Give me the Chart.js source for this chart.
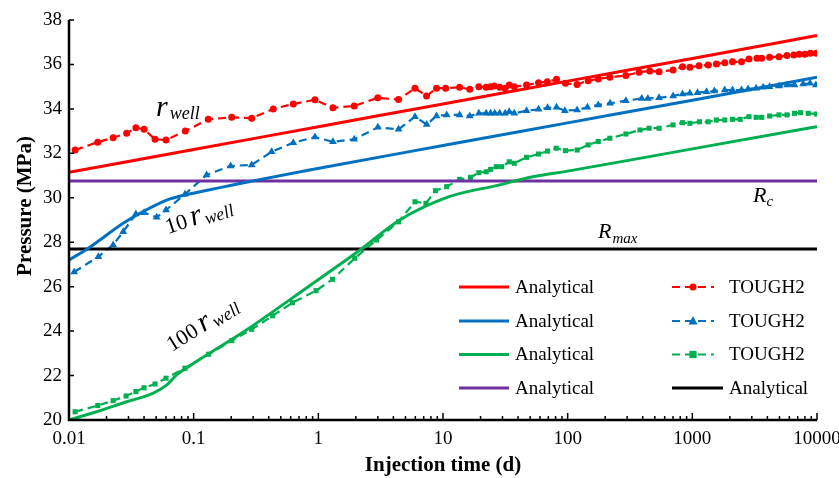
<!DOCTYPE html>
<html>
<head>
<meta charset="utf-8">
<script src="https://cdn.jsdelivr.net/npm/chart.js@4"></script>
<style>
  html, body { margin: 0; padding: 0; background: #fff; }
  #chart { display: block; }
</style>
</head>
<body>
<canvas id="chart" width="839" height="478"></canvas>
<script>
// Axis ticks
const xTicks = [0.01, 0.1, 1, 10, 100, 1000, 10000];
const yTicks = [20, 22, 24, 26, 28, 30, 32, 34, 36, 38];

// Analytical solutions (time in d, pressure in MPa)
const redAnaT = [0.01, 0.1, 1, 10, 100, 1000, 10000];
const redAnaP = [31.15, 32.17, 33.2, 34.22, 35.25, 36.27, 37.3];
const blueAnaT = [0.01, 0.0143, 0.0272, 0.039, 0.0645, 0.099, 0.3, 0.85, 10, 100, 1000, 10000];
const blueAnaP = [27.2, 27.73, 28.85, 29.37, 29.95, 30.2, 30.76, 31.25, 32.35, 33.37, 34.39, 35.42];
const greenAnaT = [0.01, 0.0167, 0.029, 0.047, 0.061, 0.073, 0.1, 0.265, 0.83, 2.16, 4.5, 11.2, 28.5, 52.5, 100, 1000, 10000];
const greenAnaP = [20.0, 20.37, 20.82, 21.2, 21.58, 22.03, 22.55, 24.05, 26.0, 27.65, 29.0, 30.05, 30.58, 30.95, 31.2, 32.2, 33.2];
const rcT = [0.01, 10000];
const rcP = [30.75, 30.75];
const rmaxT = [0.01, 10000];
const rmaxP = [27.7, 27.7];

// TOUGH2 results
const redTouT = [0.0112, 0.017, 0.0226, 0.029, 0.0344, 0.040, 0.049, 0.060, 0.0857, 0.131, 0.202, 0.292, 0.435, 0.63, 0.94, 1.31, 1.94, 3.0, 4.4, 5.96, 7.38, 8.87, 10.5, 13.6, 16.4, 19.4, 22.2, 24.1, 25.8, 28.5, 31.5, 34.0, 37.3, 46.8, 58.4, 68.7, 81.4, 95.9, 119, 146, 176, 218, 293, 374, 456, 541, 701, 834, 956, 1132, 1340, 1560, 1824, 2100, 2480, 2850, 3300, 3600, 4170, 4960, 5750, 6520, 7200, 8000, 8850, 9880];
const redTouP = [32.15, 32.5, 32.7, 32.9, 33.15, 33.08, 32.63, 32.6, 33.0, 33.53, 33.62, 33.58, 34.0, 34.22, 34.41, 34.05, 34.13, 34.5, 34.42, 34.93, 34.58, 34.93, 34.93, 34.97, 34.88, 35.0, 34.97, 35.0, 35.03, 34.97, 34.93, 35.07, 35.0, 35.07, 35.18, 35.22, 35.33, 35.15, 35.1, 35.27, 35.35, 35.42, 35.5, 35.65, 35.71, 35.67, 35.75, 35.9, 35.87, 35.94, 35.98, 36.02, 36.08, 36.12, 36.12, 36.25, 36.28, 36.28, 36.32, 36.35, 36.4, 36.43, 36.46, 36.46, 36.5, 36.5];
const blueTouT = [0.011, 0.0172, 0.0226, 0.0272, 0.0344, 0.040, 0.0505, 0.060, 0.0851, 0.127, 0.198, 0.292, 0.422, 0.63, 0.94, 1.31, 1.94, 3.0, 4.4, 5.96, 7.4, 8.87, 10.7, 13.6, 16.4, 19.4, 22.2, 24.1, 26, 28.5, 31.5, 34, 37.3, 46.8, 58.4, 69, 81.4, 95, 119, 144, 176, 219, 293, 393, 440, 541, 701, 834, 956, 1100, 1300, 1500, 1820, 2100, 2480, 2800, 3250, 3700, 4170, 4960, 5750, 6600, 7750, 8800, 9800];
const blueTouP = [26.66, 27.35, 27.88, 28.47, 29.27, 29.33, 29.12, 29.45, 30.16, 31.03, 31.43, 31.48, 32.07, 32.48, 32.73, 32.52, 32.63, 33.17, 33.08, 33.65, 33.3, 33.68, 33.73, 33.73, 33.68, 33.8, 33.8, 33.8, 33.8, 33.8, 33.8, 33.87, 33.8, 33.92, 33.98, 34.05, 34.07, 33.92, 33.95, 34.07, 34.18, 34.25, 34.37, 34.47, 34.47, 34.5, 34.58, 34.67, 34.7, 34.73, 34.77, 34.8, 34.85, 34.85, 34.85, 34.9, 34.93, 34.97, 35.0, 35.03, 35.07, 35.07, 35.12, 35.15, 35.07];
const greenTouT = [0.0112, 0.017, 0.0226, 0.0287, 0.0344, 0.040, 0.049, 0.060, 0.0851, 0.132, 0.202, 0.292, 0.43, 0.62, 0.957, 1.3, 1.96, 2.93, 4.4, 5.96, 7.3, 8.7, 10.7, 13.6, 16.6, 19.4, 22.2, 24.1, 26.8, 29.6, 34, 37.3, 46.8, 58.4, 69, 81, 96, 119, 146, 176, 218, 293, 380, 450, 541, 701, 834, 956, 1140, 1340, 1560, 1820, 2100, 2420, 2850, 3250, 3600, 4170, 4960, 5750, 6600, 7400, 8500, 9880];
const greenTouP = [20.37, 20.65, 20.87, 21.08, 21.28, 21.45, 21.62, 21.88, 22.33, 22.96, 23.57, 24.08, 24.69, 25.28, 25.82, 26.33, 27.28, 28.1, 28.92, 29.82, 29.75, 30.32, 30.5, 30.83, 30.92, 31.13, 31.17, 31.28, 31.4, 31.4, 31.62, 31.55, 31.82, 31.97, 32.1, 32.23, 32.12, 32.15, 32.38, 32.53, 32.68, 32.87, 33.05, 33.13, 33.13, 33.28, 33.38, 33.35, 33.42, 33.42, 33.5, 33.5, 33.53, 33.53, 33.65, 33.62, 33.62, 33.68, 33.73, 33.73, 33.8, 33.83, 33.8, 33.77];

const RED = '#ff0000', BLUE = '#0070c0', GREEN = '#00b050', PURPLE = '#7030a0', BLACK = '#000000';
const SERIF = '"Liberation Serif", "Times New Roman", serif';

function pairs(t, p) {
    return t.map((v, i) => ({ x: v, y: p[i] }));
}

function analytical(label, t, p, color) {
    return {
        label: label, data: pairs(t, p), borderColor: color, backgroundColor: color,
        borderWidth: 3, pointRadius: 0, cubicInterpolationMode: 'monotone'
    };
}

function tough(label, t, p, color, style, r) {
    return {
        label: label, data: pairs(t, p), borderColor: color, backgroundColor: color,
        borderWidth: 2.2, borderDash: [8, 5], pointStyle: style, pointRadius: r,
        pointBorderWidth: 0, pointBackgroundColor: color
    };
}

const datasets = [
    analytical('Analytical', redAnaT, redAnaP, RED),
    analytical('Analytical', blueAnaT, blueAnaP, BLUE),
    analytical('Analytical', greenAnaT, greenAnaP, GREEN),
    analytical('Analytical', rcT, rcP, PURPLE),
    analytical('Analytical', rmaxT, rmaxP, BLACK),
    tough('TOUGH2', redTouT, redTouP, RED, 'circle', 3.5),
    tough('TOUGH2', blueTouT, blueTouP, BLUE, 'triangle', 4.5),
    tough('TOUGH2', greenTouT, greenTouP, GREEN, 'rect', 3.6)
];

// Legend layout: dataset indexes per row, two columns
const legendRows = [[0, 5], [1, 6], [2, 7], [3, 4]];

function drawMarker(ctx, style, x, y, color) {
    ctx.fillStyle = color;
    ctx.beginPath();
    if (style === 'circle') {
        ctx.arc(x, y, 3.5, 0, Math.PI * 2);
    } else if (style === 'triangle') {
        ctx.moveTo(x, y - 5); ctx.lineTo(x + 4.5, y + 3.5); ctx.lineTo(x - 4.5, y + 3.5); ctx.closePath();
    } else {
        ctx.rect(x - 3.6, y - 3.6, 7.2, 7.2);
    }
    ctx.fill();
}

function drawParts(ctx, x, y, angle, parts) {
    ctx.save();
    ctx.translate(x, y);
    ctx.rotate(angle * Math.PI / 180);
    ctx.fillStyle = '#000';
    ctx.textBaseline = 'alphabetic';
    ctx.textAlign = 'left';
    let cx = 0;
    parts.forEach(p => {
        ctx.font = p.font;
        ctx.fillText(p.text, cx, p.dy || 0);
        cx += ctx.measureText(p.text).width + (p.gap || 0);
    });
    ctx.restore();
}

const decorPlugin = {
    id: 'decor',
    afterDraw(chart) {
        const ctx = chart.ctx;
        const xs = chart.scales.x, ys = chart.scales.y;
        const area = chart.chartArea;

        // axes
        ctx.save();
        ctx.strokeStyle = '#000';
        ctx.lineWidth = 2.5;
        ctx.beginPath();
        ctx.moveTo(area.left, area.top);
        ctx.lineTo(area.left, area.bottom);
        ctx.lineTo(area.right, area.bottom);
        ctx.stroke();

        // inward ticks
        ctx.lineWidth = 1.5;
        ctx.beginPath();
        xTicks.forEach((d, i) => {
            const px = xs.getPixelForValue(d);
            ctx.moveTo(px, area.bottom); ctx.lineTo(px, area.bottom - 7);
            if (i < xTicks.length - 1) {
                for (let k = 2; k <= 9; k++) {
                    const mx = xs.getPixelForValue(d * k);
                    ctx.moveTo(mx, area.bottom); ctx.lineTo(mx, area.bottom - 4);
                }
            }
        });
        yTicks.forEach(v => {
            const py = ys.getPixelForValue(v);
            ctx.moveTo(area.left, py); ctx.lineTo(area.left + 5, py);
        });
        ctx.stroke();

        // y axis title (sits a little above the middle in the original)
        ctx.translate(26, 206);
        ctx.rotate(-Math.PI / 2);
        ctx.font = 'bold 21px ' + SERIF;
        ctx.fillStyle = '#000';
        ctx.textAlign = 'center';
        ctx.textBaseline = 'middle';
        ctx.fillText('Pressure (MPa)', 0, 0);
        ctx.restore();

        // curve labels
        const it30 = 'italic 30px ' + SERIF, it18 = 'italic 18px ' + SERIF, up22 = '22px ' + SERIF;
        drawParts(ctx, 156, 116, 0, [
            { text: 'r', font: it30, gap: 2 },
            { text: 'well', font: it18, dy: 3 }
        ]);
        drawParts(ctx, 168, 234, -18, [
            { text: '10', font: up22, gap: 4 },
            { text: 'r', font: it30, gap: 2 },
            { text: 'well', font: it18, dy: 3 }
        ]);
        drawParts(ctx, 172, 352, -32, [
            { text: '100', font: up22, gap: 4 },
            { text: 'r', font: it30, gap: 2 },
            { text: 'well', font: it18, dy: 3 }
        ]);
        drawParts(ctx, 753, 202, 0, [
            { text: 'R', font: 'italic 22px ' + SERIF, gap: 0 },
            { text: 'c', font: 'italic 15px ' + SERIF, dy: 4 }
        ]);
        drawParts(ctx, 598, 238, 0, [
            { text: 'R', font: 'italic 22px ' + SERIF, gap: 1 },
            { text: 'max', font: 'italic 15px ' + SERIF, dy: 5 }
        ]);

        // legend (two columns, four rows)
        const rowY = [287, 321, 354.5, 388];
        ctx.save();
        ctx.font = '19px ' + SERIF;
        ctx.textBaseline = 'middle';
        ctx.fillStyle = '#000';
        legendRows.forEach((row, r) => {
            const y = rowY[r];
            row.forEach((idx, c) => {
                const ds = chart.data.datasets[idx];
                const x0 = c === 0 ? 459 : 672;
                const tx = c === 0 ? 515 : 729;
                ctx.strokeStyle = ds.borderColor;
                ctx.lineWidth = ds.borderDash ? 2.2 : 3;
                ctx.setLineDash(ds.borderDash || []);
                ctx.beginPath();
                ctx.moveTo(x0, y);
                ctx.lineTo(ds.borderDash ? 714 : (c === 0 ? 509 : 723), y);
                ctx.stroke();
                ctx.setLineDash([]);
                if (ds.borderDash) drawMarker(ctx, ds.pointStyle, 693, y, ds.borderColor);
                ctx.fillStyle = '#000';
                ctx.fillText(ds.label, tx, y + 1);
            });
        });
        ctx.restore();
    }
};

const chart = new Chart(document.getElementById('chart').getContext('2d'), {
    type: 'line',
    data: { datasets: datasets },
    options: {
        responsive: false,
        animation: false,
        devicePixelRatio: 1,
        layout: { padding: { top: 20, right: 22, left: 0, bottom: 0 } },
        plugins: { legend: { display: false }, tooltip: { enabled: false } },
        scales: {
            x: {
                type: 'logarithmic',
                min: 0.01,
                max: 10000,
                grid: { display: false, drawTicks: false },
                border: { display: false },
                afterBuildTicks: s => { s.ticks = xTicks.map(v => ({ value: v, major: true })); },
                ticks: {
                    color: '#000', font: { family: SERIF, size: 19 }, padding: 8,
                    autoSkip: false, maxRotation: 0,
                    callback: v => String(v)
                },
                title: {
                    display: true, text: 'Injection time (d)', color: '#000',
                    font: { family: SERIF, size: 21, weight: 'bold' }, padding: { top: 0, bottom: 0 }
                },
                afterFit: s => { s.height = 58; s.paddingLeft = 0; s.paddingRight = 0; }
            },
            y: {
                min: 20,
                max: 38,
                grid: { display: false, drawTicks: false },
                border: { display: false },
                afterBuildTicks: s => { s.ticks = yTicks.map(v => ({ value: v })); },
                ticks: { color: '#000', font: { family: SERIF, size: 19 }, padding: 7 },
                afterFit: s => { s.width = 69; s.paddingTop = 0; s.paddingBottom = 0; }
            }
        }
    },
    plugins: [decorPlugin]
});
</script>
</body>
</html>
